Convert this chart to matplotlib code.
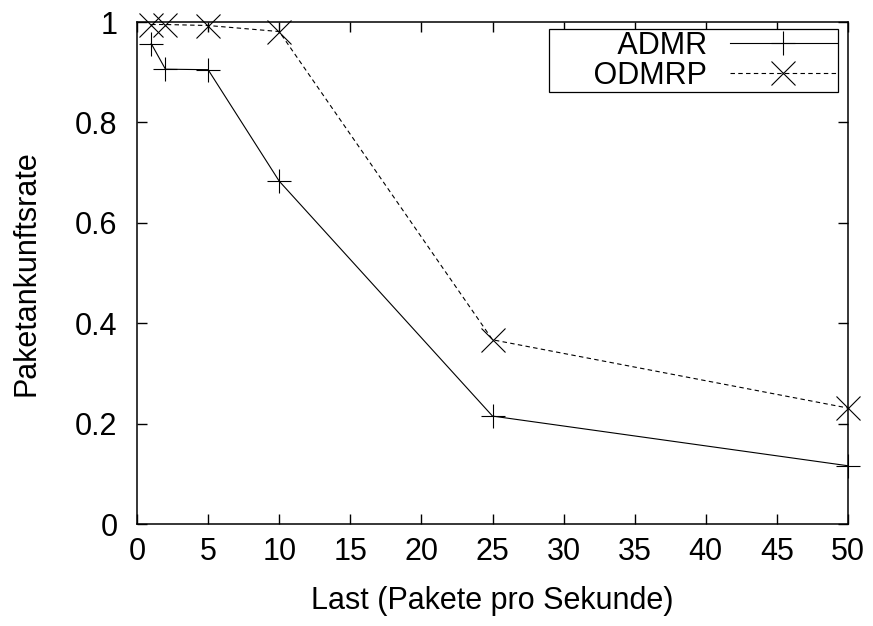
import matplotlib
matplotlib.use("Agg")
from matplotlib import pyplot as plt

plt.rcParams['font.family'] = ['Liberation Sans', 'DejaVu Sans']

last = [1, 2, 5, 10, 25, 50]
admr = [0.957, 0.906, 0.905, 0.683, 0.215, 0.116]
odmrp = [0.995, 0.995, 0.993, 0.981, 0.367, 0.231]

x_ticks = [0, 5, 10, 15, 20, 25, 30, 35, 40, 45, 50]
y_ticks = [0, 0.2, 0.4, 0.6, 0.8, 1]
y_labels = ["0", "0.2", "0.4", "0.6", "0.8", "1"]

fig = plt.figure(figsize=(8.73, 6.26), dpi=100)
ax = fig.add_axes([137/873, 1 - 524/626, (848 - 137)/873, (524 - 22)/626])

ax.plot(last, admr, color='black', lw=0.8, marker='+', markersize=17,
        markeredgewidth=0.8, clip_on=False, label='        ADMR')
ax.plot(last, odmrp, color='black', lw=0.8, dashes=(4, 3), marker='x',
        markersize=17, markeredgewidth=0.8, clip_on=False, label='     ODMRP')

ax.set_xlim(0, 50)
ax.set_ylim(0, 1)
ax.set_xticks(x_ticks)
ax.set_yticks(y_ticks)
ax.set_yticklabels(y_labels)
ax.tick_params(direction='in', length=7, width=1, top=True, right=True,
               labelsize=22)
ax.tick_params(axis='x', pad=9)
ax.tick_params(axis='y', pad=14)
for s in ax.spines.values():
    s.set_linewidth(1.1)

ax.set_xlabel('Last (Pakete pro Sekunde)', fontsize=22, labelpad=14)
ax.set_ylabel('Paketankunftsrate', fontsize=22, labelpad=24)

leg = ax.legend(loc='upper right', markerfirst=False, fontsize=22,
                handlelength=3.5, frameon=True, fancybox=False,
                edgecolor='black', framealpha=1, borderpad=0.05,
                labelspacing=0.0, handletextpad=0.75, borderaxespad=0,
                bbox_to_anchor=(0.986, 0.986))
leg.get_frame().set_linewidth(0.9)

fig.savefig('out.png', dpi=100)
